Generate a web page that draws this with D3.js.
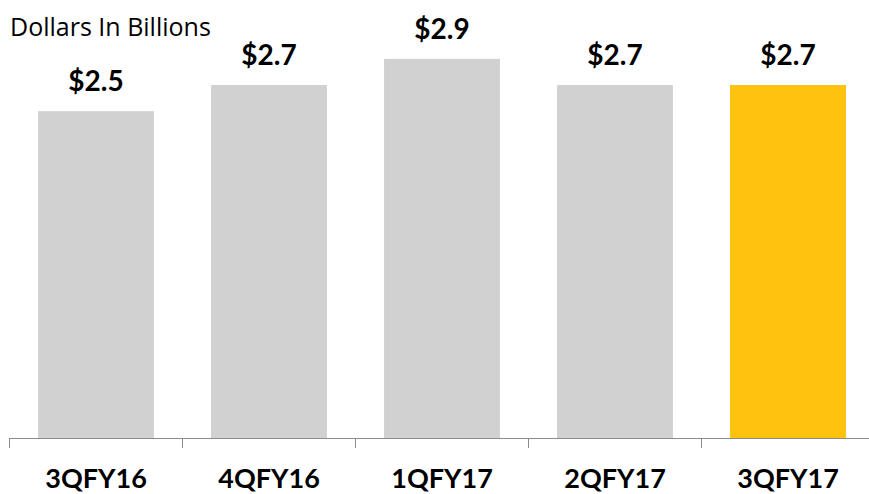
<!DOCTYPE html>
<html lang="en">
    <head>
        <meta charset="utf-8">
        <title>Quarterly values</title>
        <script src="https://cdn.jsdelivr.net/npm/d3@7"></script>
        <style type="text/css">
            body { margin: 0; }
            .axis path, .axis line { stroke: #8c8c8c; }
            .axis text {
                font-family: Lato, sans-serif;
                font-weight: bold;
                font-size: 27px;
                fill: black;
            }
        </style>
    </head>
    <body>
        <script type="text/javascript">

            var quarters = ["3QFY16", "4QFY16", "1QFY17", "2QFY17", "3QFY17"];
            var values = [2.5, 2.7, 2.9, 2.7, 2.7];
            var labels = ["$2.5", "$2.7", "$2.9", "$2.7", "$2.7"];

            var w = 869;
            var h = 494;
            var baseY = 438;

            var svg = d3.select("body")
                .append("svg")
                .attr("width", w)
                .attr("height", h);

            var xScale = d3.scaleBand()
                .domain(quarters)
                .range([9.5, 874.5])
                .paddingInner(0.33)
                .paddingOuter(0.165);

            var yScale = d3.scaleLinear()
                .domain([0, 3.35])
                .range([baseY, 0]);

            svg.selectAll("rect")
                .data(values)
                .enter()
                .append("rect")
                .attr("x", function(d, i) { return xScale(quarters[i]); })
                .attr("y", function(d) { return yScale(d); })
                .attr("width", xScale.bandwidth())
                .attr("height", function(d) { return baseY - yScale(d); })
                .attr("fill", function(d, i) { return i == quarters.length - 1 ? "#FFC20E" : "#D0D1D0"; });

            svg.selectAll(".val")
                .data(values)
                .enter()
                .append("text")
                .attr("class", "val")
                .attr("x", function(d, i) { return xScale(quarters[i]) + xScale.bandwidth() / 2; })
                .attr("y", function(d) { return yScale(d) - 20; })
                .attr("text-anchor", "middle")
                .style("font-family", "Lato, sans-serif")
                .style("font-weight", "bold")
                .style("font-size", "28px")
                .text(function(d, i) { return labels[i]; });

            // axis line with ticks on the band edges
            var xAxis = d3.axisBottom(xScale)
                .tickSize(0)
                .tickPadding(31);
            svg.append("g")
                .attr("class", "axis")
                .attr("transform", "translate(0," + baseY + ")")
                .call(xAxis);

            var step = xScale.step();
            svg.selectAll(".sep")
                .data(d3.range(quarters.length + 1))
                .enter()
                .append("line")
                .attr("class", "sep")
                .attr("x1", function(d) { return 9.5 + d * step; })
                .attr("x2", function(d) { return 9.5 + d * step; })
                .attr("y1", baseY)
                .attr("y2", baseY + 10)
                .attr("stroke", "#8c8c8c");

            svg.append("text")
                .attr("x", 10)
                .attr("y", 36)
                .style("font-family", "'Open Sans', sans-serif")
                .style("font-size", "25px")
                .text("Dollars In Billions");

        </script>
    </body>
</html>
